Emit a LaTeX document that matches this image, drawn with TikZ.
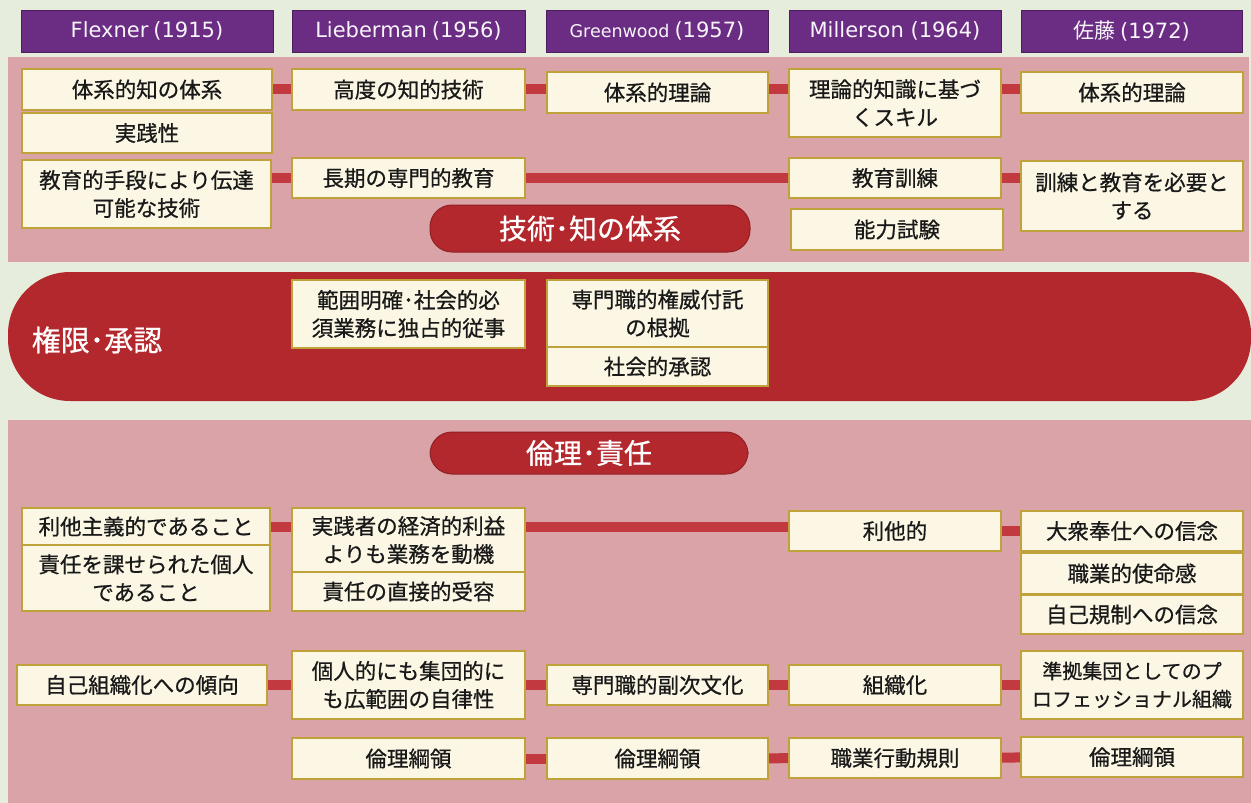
\documentclass[tikz,border=0pt]{standalone}
\usepackage{fontspec}
\newfontfamily\jp[FakeBold=0.7]{Noto Sans CJK JP}
\newfontfamily\jpp{Noto Sans CJK JP}
\newfontfamily\hd{DejaVu Sans}
\definecolor{bgc}{HTML}{E6EDDD}
\definecolor{pinkp}{HTML}{D9A3A8}
\definecolor{darkred}{HTML}{B3282D}
\definecolor{purp}{HTML}{6B2C83}
\definecolor{boxfill}{HTML}{FBF7E4}
\definecolor{boxedge}{HTML}{BFA33A}
\definecolor{connc}{HTML}{C23A40}
\pgfdeclarelayer{bglayer}
\pgfdeclarelayer{connlayer}
\pgfsetlayers{bglayer,connlayer,main}
\newcommand\bx[7][box]{\node[#1,minimum width={#5pt-#3pt},minimum height={#6pt-#4pt}] (#2) at ({(#3+#5)/2},{(#4+#6)/2}) {#7};}
\newcommand\yr[1]{\hspace{5pt}(#1)}
\begin{document}
\begin{tikzpicture}[x=1pt,y=-1pt,
 box/.style={draw=boxedge,line width=1.6pt,fill=boxfill,inner sep=0pt,align=center,text=black!90,font=\jp\fontsize{21.5}{28}\selectfont},
 head/.style={draw=purp!70!black,line width=0.8pt,fill=purp,text=white!95!purp,inner sep=0pt,font=\hd\fontsize{21}{24}\selectfont},
 pill/.style={fill=darkred,draw=darkred!80!black,line width=1pt,rounded corners=22pt,text=white,inner sep=0pt,font=\jp\fontsize{28}{30}\selectfont},
 bandstyle/.style={fill=darkred,draw=none,rounded corners=62pt,inner sep=0pt},
 link/.style={draw=connc,line width=10pt}]
\begin{pgfonlayer}{bglayer}
\fill[bgc] (0,0) rectangle (1251,803);
\fill[pinkp] (8,57) rectangle (1249,262);
\fill[pinkp] (8,420) rectangle (1251,803);
\end{pgfonlayer}
\useasboundingbox (0,0) rectangle (1251,803);
% headers
\bx[head]{h1}{21}{10}{273}{52}{Flexner\yr{1915}}
\bx[head]{h2}{292}{10}{525}{52}{Lieberman\yr{1956}}
\bx[head]{h3}{546}{10}{768}{52}{{\fontsize{17.5}{18}\selectfont Greenwood}\yr{1957}}
\bx[head]{h4}{789}{10}{1001}{52}{Millerson (1964)}
\bx[head]{h5}{1021}{10}{1242}{52}{{\jpp 佐藤}\yr{1972}}
% top section
\bx{f1}{22}{69}{272}{110}{体系的知の体系}
\bx{f2}{22}{113}{272}{153}{実践性}
\bx{f3}{22}{160}{271}{228}{教育的手段により伝達\\可能な技術}
\bx{l1}{292}{69}{525}{110}{高度の知的技術}
\bx{l2}{292}{158}{525}{198}{長期の専門的教育}
\bx{g1}{547}{72}{768}{113}{体系的理論}
\bx{m1}{789}{69}{1001}{137}{理論的知識に基づ\\くスキル}
\bx{m2}{789}{158}{1001}{198}{教育訓練}
\bx{m3}{791}{209}{1003}{250}{能力試験}
\bx{s1}{1021}{72}{1243}{113}{体系的理論}
\bx{s2}{1021}{161}{1243}{231}{訓練と教育を必要と\\する}
\bx[pill]{p1}{430}{205}{750}{252}{技術･知の体系}
% middle band
\node[bandstyle,minimum width=1243pt,minimum height=129pt] (band) at (629.5,336.5) {};
\node[text=white,inner sep=0pt,font=\jp\fontsize{29}{30}\selectfont] (auth) at (97,340) {権限･承認};
\bx{a1}{292}{280}{525}{348}{範囲明確･社会的必\\須業務に独占的従事}
\bx{a2}{547}{280}{768}{347}{専門職的権威付託\\の根拠}
\bx{a3}{547}{347}{768}{386}{社会的承認}
% lower section
\bx[pill]{p2}{430}{432}{748}{474}{倫理･責任}
\bx{e1}{22}{508}{270}{545}{利他主義的であること}
\bx{e2}{22}{545}{270}{611}{責任を課せられた個人\\であること}
\bx{e3}{292}{508}{525}{572}{実践者の経済的利益\\よりも業務を動機}
\bx{e4}{292}{572}{525}{611}{責任の直接的受容}
\bx{e5}{789}{511}{1001}{551}{利他的}
\bx{e6}{1021}{511}{1243}{551}{大衆奉仕への信念}
\bx{e7}{1021}{553}{1243}{594}{職業的使命感}
\bx{e8}{1021}{595}{1243}{634}{自己規制への信念}
\bx{o1}{17}{665}{267}{705}{自己組織化への傾向}
\bx{o2}{292}{651}{525}{719}{個人的にも集団的に\\も広範囲の自律性}
\bx{o3}{547}{665}{768}{705}{専門職的副次文化}
\bx{o4}{789}{665}{1001}{705}{組織化}
\bx[box,font=\jp\fontsize{20}{28}\selectfont]{o5}{1021}{651}{1243}{719}{準拠集団としてのプ\\ロフェッショナル組織}
\bx{c1}{292}{738}{525}{779}{倫理綱領}
\bx{c2}{547}{738}{768}{779}{倫理綱領}
\bx{c3}{789}{738}{1001}{778}{職業行動規則}
\bx{c4}{1021}{737}{1243}{777}{倫理綱領}
\coordinate (r1) at (0,89);
\coordinate (r3) at (0,178);
\coordinate (ra) at (0,527);
\begin{pgfonlayer}{connlayer}
\draw[link] (r1 -| f1.east) -- (r1 -| l1.west);
\draw[link] (r1 -| l1.east) -- (r1 -| g1.west);
\draw[link] (r1 -| g1.east) -- (r1 -| m1.west);
\draw[link] (r1 -| m1.east) -- (r1 -| s1.west);
\draw[link] (r3 -| f3.east) -- (r3 -| l2.west);
\draw[link] (l2) -- (m2);
\draw[link] (m2) -- (m2 -| s2.west);
\draw[link] (ra -| e1.east) -- (ra -| e3.west);
\draw[link] (ra -| e3.east) -- (ra -| e5.west);
\draw[link] (e5) -- (e6);
\draw[link] (o1) -- (o2);
\draw[link] (o2) -- (o3);
\draw[link] (o3) -- (o4);
\draw[link] (o4) -- (o5);
\draw[link] (c1) -- (c2);
\draw[link] (c2) -- (c3);
\draw[link] (c3) -- (c4);
\end{pgfonlayer}
\end{tikzpicture}
\end{document}
